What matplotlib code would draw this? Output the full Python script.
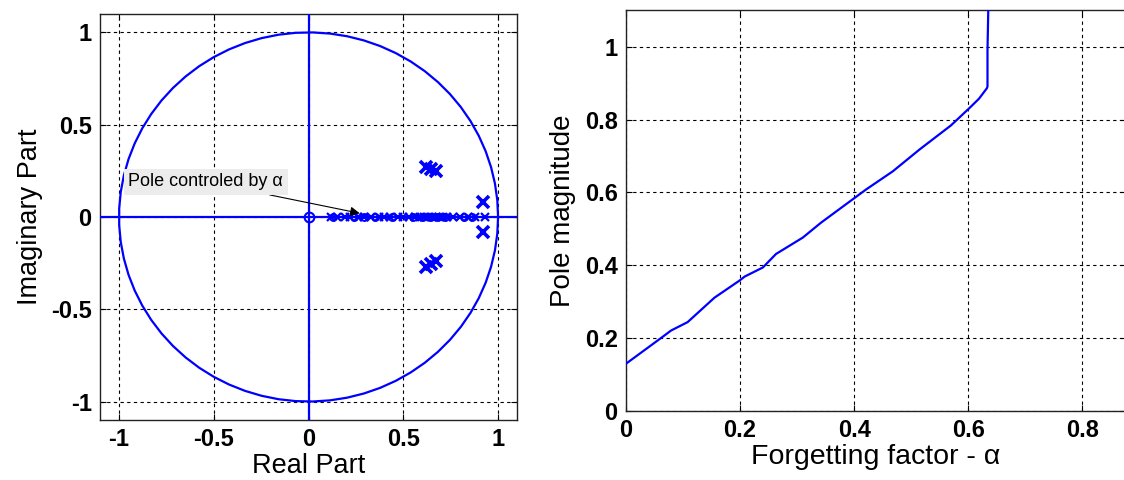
import numpy as np
import matplotlib
matplotlib.use("Agg")
import matplotlib.pyplot as plt

plt.rcParams['font.family'] = ['Liberation Sans', 'DejaVu Sans']

# ---- Data: left panel (pole-zero map) ----
real_poles = [0.12, 0.15, 0.19, 0.22, 0.26, 0.29, 0.33, 0.37, 0.40, 0.43,
              0.47, 0.50, 0.53, 0.56, 0.59, 0.61, 0.63, 0.65, 0.67, 0.69,
              0.71, 0.73, 0.76, 0.80, 0.84, 0.88, 0.93]
real_zeros = [0.13, 0.24, 0.29, 0.35, 0.44, 0.55, 0.60, 0.64, 0.68, 0.72,
              0.82, 0.86]
cplx_poles_re = [0.62, 0.645, 0.67, 0.62, 0.645, 0.67, 0.92, 0.92]
cplx_poles_im = [0.27, 0.26, 0.25, -0.27, -0.255, -0.24, 0.08, -0.08]
origin_zero = [0.0]

# ---- Data: right panel (pole magnitude vs forgetting factor) ----
alpha = [0.0, 0.061, 0.079, 0.108, 0.155, 0.199, 0.208, 0.240, 0.263, 0.310,
         0.342, 0.401, 0.421, 0.468, 0.515, 0.570, 0.602, 0.619, 0.633, 0.634,
         0.634, 0.636]
pole_mag = [0.130, 0.200, 0.221, 0.244, 0.311, 0.358, 0.369, 0.394, 0.431, 0.476,
            0.517, 0.585, 0.608, 0.658, 0.718, 0.784, 0.831, 0.857, 0.886, 0.891,
            0.990, 1.15]

blue = (0, 0, 1)
TFS = 17
LFS = 19.5

fig = plt.figure(figsize=(11.24, 4.8), dpi=100)

def style(ax):
    ax.grid(True, color='black', linestyle=(0, (3, 3)), linewidth=0.8)
    ax.set_axisbelow(True)
    ax.tick_params(direction='in', length=4, labelsize=TFS, pad=6,
                   top=True, right=True)
    for lab in ax.get_xticklabels() + ax.get_yticklabels():
        lab.set_fontweight('bold')
    for s in ax.spines.values():
        s.set_linewidth(1.0)
        s.set_color('#222222')

# Left panel
ax1 = fig.add_axes([0.0890, 0.125, 0.371, 0.846])
th = np.linspace(0, 2 * np.pi, 70)
ax1.plot(np.cos(th), np.sin(th), color=blue, lw=1.6, zorder=3)
ax1.axhline(0, color=blue, lw=1.6, zorder=3)
ax1.axvline(0, color=blue, lw=1.6, zorder=3)
ax1.plot(real_poles, np.zeros(len(real_poles)), 'x', color=blue, ms=6, mew=1.6, zorder=4)
ax1.plot(real_zeros, np.zeros(len(real_zeros)), 'o', color=blue, mfc='none', ms=5, mew=1.4, zorder=4)
ax1.plot(origin_zero, [0.0], 'o', color=blue, mfc='none', ms=7, mew=1.5, zorder=4)
ax1.plot(cplx_poles_re, cplx_poles_im, 'x', color=blue, ms=9, mew=2.6, zorder=4)
ax1.set_xlim(-1.1, 1.1)
ax1.set_ylim(-1.1, 1.1)
ax1.set_xticks([-1, -0.5, 0, 0.5, 1])
ax1.set_xticklabels(['-1', '-0.5', '0', '0.5', '1'])
ax1.set_yticks([-1, -0.5, 0, 0.5, 1])
ax1.set_yticklabels(['-1', '-0.5', '0', '0.5', '1'])
ax1.set_xlabel('Real Part', fontsize=LFS, labelpad=1)
ax1.set_ylabel('Imaginary Part', fontsize=LFS, labelpad=6)
style(ax1)
ax1.annotate('Pole controled by α', xy=(0.27, 0.02), xytext=(-0.95, 0.19),
             fontsize=13, va='center', ha='left', zorder=6,
             bbox=dict(boxstyle='square,pad=0.25', fc='#ececec', ec='none'),
             arrowprops=dict(arrowstyle='-|>', color='black', lw=0.8,
                             mutation_scale=14, shrinkA=0, shrinkB=0))

# Right panel (its right edge is cropped at the figure border, as in the source)
ax2 = fig.add_axes([0.557, 0.1437, 0.4448, 0.835])
ax2.plot(alpha, pole_mag, color=blue, lw=1.6, zorder=3)
ax2.set_xlim(0, 0.877)
ax2.set_ylim(0, 1.1)
ax2.set_xticks([0, 0.2, 0.4, 0.6, 0.8])
ax2.set_xticklabels(['0', '0.2', '0.4', '0.6', '0.8'])
ax2.set_yticks([0, 0.2, 0.4, 0.6, 0.8, 1.0])
ax2.set_yticklabels(['0', '0.2', '0.4', '0.6', '0.8', '1'])
ax2.set_xlabel('Forgetting factor - α', fontsize=LFS + 1, labelpad=1)
ax2.set_ylabel('Pole magnitude', fontsize=LFS + 0.5, labelpad=6)
style(ax2)

fig.savefig('out.png', dpi=100)
